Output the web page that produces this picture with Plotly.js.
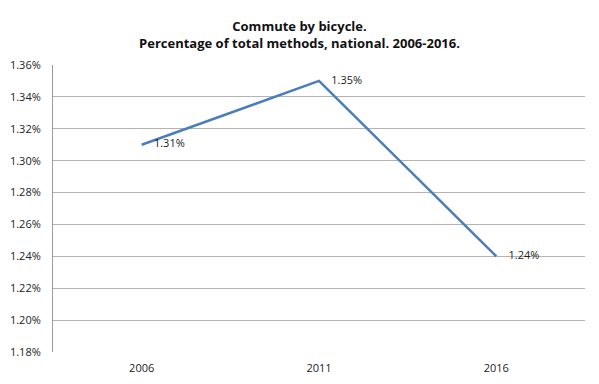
<!DOCTYPE html>
<html>
<head>
<meta charset="utf-8">
<script src="https://cdn.plot.ly/plotly-3.0.1.min.js"></script>
<style>html,body{margin:0;padding:0;background:#fff;}#chart{width:599px;height:384px;}</style>
</head>
<body>
<div id="chart"></div>
<script>
const years = ["2006", "2011", "2016"];
const share = [1.31, 1.35, 1.24];
const labels = ["1.31%", "1.35%", "1.24%"];
const tickVals = [1.18, 1.20, 1.22, 1.24, 1.26, 1.28, 1.30, 1.32, 1.34, 1.36];
const tickText = ["1.18%", "1.20%", "1.22%", "1.24%", "1.26%", "1.28%", "1.30%", "1.32%", "1.34%", "1.36%"];

const font = "Open Sans, Liberation Sans, sans-serif";
Plotly.newPlot("chart", [{
  x: years, y: share, type: "scatter", mode: "lines+markers+text",
  text: labels, textposition: "middle right",
  textfont: {family: font, size: 11, color: "#222"},
  marker: {size: 18, color: "rgba(0,0,0,0)"},
  line: {color: "#4a7ebb", width: 2.5},
  cliponaxis: false, hoverinfo: "skip"
}], {
  width: 599, height: 384,
  margin: {l: 53, r: 14, t: 65, b: 32},
  paper_bgcolor: "#fff", plot_bgcolor: "#fff",
  showlegend: false,
  title: {text: "<b>Commute by bicycle.</b><br><b>Percentage of total methods, national. 2006-2016.</b>",
    font: {family: font, size: 13, color: "#111"}, x: 0.5, xanchor: "center", y: 0.92, yanchor: "middle"},
  xaxis: {type: "category", range: [-0.5, 2.5], showgrid: false, zeroline: false,
    showline: false, ticks: "", ticklabelstandoff: 8, tickfont: {family: font, size: 11, color: "#222"}},
  yaxis: {range: [1.18, 1.36], tickvals: tickVals, ticktext: tickText, showgrid: true,
    gridcolor: "#b3b3b3", gridwidth: 1, zeroline: false, showline: true, linecolor: "#999",
    ticks: "", ticklabelstandoff: 9, tickfont: {family: font, size: 11, color: "#222"}}
}, {staticPlot: true});
</script>
</body>
</html>
